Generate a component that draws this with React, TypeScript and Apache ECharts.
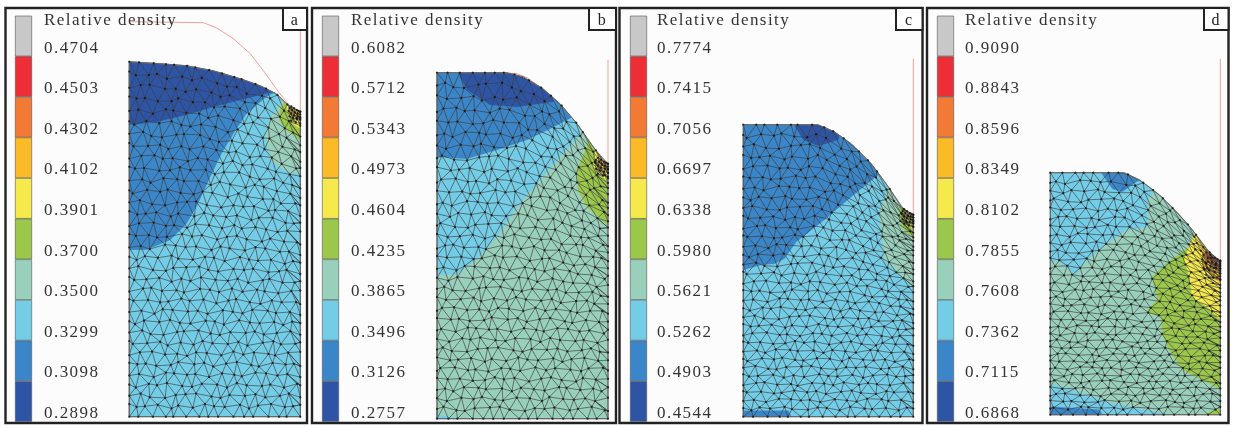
import React, { useEffect, useRef } from "react";
import * as echarts from "echarts";

// Legend values (top to bottom) per panel
const labelsA = ["0.4704", "0.4503", "0.4302", "0.4102", "0.3901", "0.3700", "0.3500", "0.3299", "0.3098", "0.2898"];
const labelsB = ["0.6082", "0.5712", "0.5343", "0.4973", "0.4604", "0.4235", "0.3865", "0.3496", "0.3126", "0.2757"];
const labelsC = ["0.7774", "0.7415", "0.7056", "0.6697", "0.6338", "0.5980", "0.5621", "0.5262", "0.4903", "0.4544"];
const labelsD = ["0.9090", "0.8843", "0.8596", "0.8349", "0.8102", "0.7855", "0.7608", "0.7362", "0.7115", "0.6868"];
const bandColors = ["#C8C8C8", "#EE2E37", "#F27A34", "#FBBB28", "#F5E94C", "#9BC84B", "#98D0BC", "#74CDE7", "#3A86C8", "#2E55A5"];
const GREY = 0, RED = 1, ORANGE = 2, AMBER = 3, YELLOW = 4, GREEN = 5, FOAM = 6, SKY = 7, BLUE = 8, NAVY = 9;

// Specimen outline: x, height
const profileA = [[0, 355], [31, 353], [57, 351], [84, 346], [111, 338], [131, 331], [147, 323], [157, 313], [164, 308], [171, 305]];
const profileB = [[0, 346], [70, 346], [86, 342], [106, 330], [123, 315], [140, 295], [156, 272], [166, 259], [171, 255]];
const profileC = [[0, 292], [75, 292], [91, 285], [108, 273], [128, 253], [145, 230], [158, 210], [165, 203], [170, 202]];
const profileD = [[0, 242], [74, 242], [89, 235], [109, 220], [129, 200], [142, 185], [156, 166], [166, 155], [170, 154]];

// Density regions, painted in order: [band, polygon]
const regionsA: [number, number[][]][] = [
  [SKY, [[0, 0], [171, 0], [171, 360], [0, 360]]],
  [BLUE, [[0, 167], [17, 167], [41, 177], [57, 193], [67, 210], [81, 240], [92, 263], [104, 283], [117, 303], [137, 320], [149, 326], [149, 360], [0, 360]]],
  [NAVY, [[0, 292], [27, 295], [57, 302], [84, 310], [111, 317], [148, 326], [148, 360], [0, 360]]],
  [FOAM, [[171, 242], [154, 247], [141, 257], [136, 283], [142, 300], [151, 313], [157, 322], [171, 330]]],
  [GREEN, [[171, 277], [157, 287], [150, 297], [151, 308], [156, 315], [171, 330]]],
  [YELLOW, [[171, 288], [164, 293], [159, 303], [157, 312], [171, 330]]],
  [AMBER, [[171, 295], [166, 300], [161, 308], [171, 330]]],
];
const regionsB: [number, number[][]][] = [
  [FOAM, [[0, 0], [171, 0], [171, 360], [0, 360]]],
  [SKY, [[0, 144], [20, 145], [40, 160], [60, 182], [80, 212], [100, 235], [120, 259], [143, 284], [143, 360], [0, 360]]],
  [BLUE, [[0, 262], [30, 260], [60, 269], [90, 279], [113, 290], [136, 302], [136, 360], [0, 360]]],
  [NAVY, [[21, 346], [30, 329], [53, 314], [80, 312], [116, 317], [116, 360], [21, 360]]],
  [GREEN, [[150, 272], [140, 249], [141, 229], [150, 212], [171, 193], [171, 290], [150, 290]]],
  [YELLOW, [[158, 262], [156, 252], [171, 237], [171, 290], [158, 290]]],
  [AMBER, [[163, 255], [171, 245], [171, 290], [163, 290]]],
  [SKY, [[0, 0], [0, 4], [23, 0]]],
];
const regionsC: [number, number[][]][] = [
  [SKY, [[0, 0], [170, 0], [170, 300], [0, 300]]],
  [BLUE, [[0, 147], [18, 152], [31, 153], [41, 158], [53, 175], [81, 197], [108, 220], [135, 242], [135, 300], [0, 300]]],
  [NAVY, [[51, 292], [60, 277], [75, 271], [95, 277], [100, 300], [51, 300]]],
  [FOAM, [[145, 230], [136, 203], [141, 157], [170, 130], [170, 240], [145, 240]]],
  [GREEN, [[156, 200], [158, 190], [170, 178], [170, 210], [156, 210]]],
  [YELLOW, [[161, 200], [170, 187], [170, 210], [161, 210]]],
  [BLUE, [[0, 0], [0, 6], [45, 6], [48, 0]]],
];
const regionsD: [number, number[][]][] = [
  [FOAM, [[0, 0], [170, 0], [170, 250], [0, 250]]],
  [SKY, [[0, 151], [6, 155], [26, 140], [32, 151], [52, 168], [76, 185], [97, 188], [97, 215], [106, 225], [106, 250], [0, 250]]],
  [BLUE, [[51, 242], [62, 226], [72, 223], [89, 235], [89, 250], [51, 250]]],
  [GREEN, [[144, 181], [139, 168], [116, 151], [102, 138], [107, 115], [96, 103], [111, 98], [112, 81], [119, 65], [132, 45], [152, 35], [170, 26], [170, 190], [144, 190]]],
  [YELLOW, [[144, 181], [134, 155], [139, 138], [142, 118], [159, 106], [170, 95], [170, 190], [144, 190]]],
  [AMBER, [[152, 161], [152, 148], [170, 131], [170, 190], [152, 190]]],
  [ORANGE, [[156, 155], [170, 143], [170, 190], [156, 190]]],
  [SKY, [[0, 31], [26, 23], [62, 11], [119, 0], [0, 0]]],
  [BLUE, [[0, 8], [49, 5], [52, 0], [0, 0]]],
  [GREEN, [[152, 0], [170, 6], [170, 0]]],
];

// Die lines: red traces above the specimen
const dieA = [[[1, 395], [74, 394], [87, 389], [104, 378], [121, 363], [137, 342], [149, 325], [161, 310]], [[171, 387], [171, 305]]];
const dieB = [[[171, 359], [171, 255]], [[64, 346], [80, 345], [90, 341], [100, 334]]];
const dieC = [[[170, 358], [170, 202]]];
const dieD = [[[170, 356], [170, 154]]];

// The mesh is an estimate of the look of the picture, not a node-by-node reading:
// a staggered lattice nudged by these hand-typed offsets, mapped into each outline.
const nudgeU = [
  [2, -3, 1, 3, -2, 0, 2, -1, -3, 2, 1, -2, 3],
  [-1, 2, -2, 0, 3, -3, 1, 2, -1, -2, 3, 0, -3],
  [3, 0, -3, 2, 1, -1, -2, 3, 0, -3, 2, 1, -1],
  [-2, 1, 3, -1, -3, 2, 0, -2, 3, 1, -1, -3, 2],
  [0, -2, 2, 3, -1, 1, -3, 0, 2, 3, -2, 1, 0],
  [1, 3, -1, -2, 2, -3, 3, 1, -2, 0, -1, 3, -2],
  [-3, -1, 0, 2, 3, 1, -2, -3, 1, 2, 0, -1, 3],
];
const nudgeV = [
  [-2, 2, 3, -1, 0, -3, 2, 1, -2, 3, -1, 2, 0],
  [3, -1, 0, 2, -3, 1, -2, 3, 0, -1, 2, -3, 1],
  [0, 3, -2, -3, 1, 2, 3, -1, -3, 1, 0, 2, -2],
  [1, -3, 2, 0, 3, -1, -2, 2, 1, -3, 3, 0, -1],
  [-1, 1, -3, 3, 2, 0, 1, -3, 2, 0, -2, 3, 2],
  [2, 0, 1, -2, -1, 3, 0, 2, -3, 1, 3, -1, -3],
];
const notchRows = [
  [[0, 0], [-2, 1], [-4, 2], [-7, 4], [-10, 6]],
  [[0, -3], [-3, -2], [-6, -1], [-9, 2], [-12, 4]],
  [[0, -6], [-3, -5], [-7, -4], [-10, -2], [-13, 1]],
  [[0, -9], [-4, -8], [-8, -7], [-12, -5]],
  [[0, -13], [-5, -12], [-10, -10]],
];
const notchScale = [0.9, 1, 0.9, 1.4];

const labelsAll = [labelsA, labelsB, labelsC, labelsD];
const profiles = [profileA, profileB, profileC, profileD];
const regions = [regionsA, regionsB, regionsC, regionsD];
const dies = [dieA, dieB, dieC, dieD];
const letters = ["a", "b", "c", "d"];

// Layout, in pixels
const frames = [[5.5, 8, 301.5, 415], [312, 8, 304, 415], [619.5, 8, 303, 415], [927, 8, 301.5, 415]];
const legendLeft = [15, 322, 630, 937];
const labelLeft = [44, 351, 657, 965];
const meshLeft = [129.3, 437, 743.3, 1050.3];
const meshBottom = [416.7, 418.7, 416.7, 414.7];
const boxLeft = [283, 589, 896, 1204];
const WORLD = 400;
const COLS = 15, ROWS = 32;
const BG = "#FCFCFC";

function heightAt(p: number[][], x: number) {
  for (let i = 1; i < p.length; i++) {
    if (x <= p[i][0]) {
      const t = (x - p[i - 1][0]) / (p[i][0] - p[i - 1][0]);
      return p[i - 1][1] + t * (p[i][1] - p[i - 1][1]);
    }
  }
  return p[p.length - 1][1];
}

function stripe(a: number[][], b: number[][]) {
  const path: number[][] = [a[0], b[0]];
  let i = 0, j = 0;
  const add = (p: number[], q: number[]) => {
    const last = path[path.length - 1];
    if (last === p) path.push(q);
    else if (last === q) path.push(p);
    else path.push(p, q);
  };
  while (i < a.length - 1 || j < b.length - 1) {
    const fa = (i + 1) / (a.length - 1), fb = (j + 1) / (b.length - 1);
    if (j === b.length - 1 || (i < a.length - 1 && fa <= fb)) i++;
    else j++;
    add(a[i], b[j]);
  }
  return path;
}

function buildMesh(panel: number) {
  const p = profiles[panel];
  const W = p[p.length - 1][0];
  const meanH = (heightAt(p, 0) + heightAt(p, W / 2) + heightAt(p, W)) / 3;
  const rows: number[][][] = [];
  for (let r = 0; r <= ROWS; r++) {
    const row: number[][] = [];
    const odd = r % 2 === 1;
    const us: number[] = [];
    if (odd) {
      us.push(0);
      for (let c = 0; c < COLS; c++) us.push((c + 0.5) / COLS);
      us.push(1);
    } else {
      for (let c = 0; c <= COLS; c++) us.push(c / COLS);
    }
    us.forEach((u0, c) => {
      const nu = nudgeU[(r + panel * 2) % nudgeU.length][c % 13];
      const nv = nudgeV[(r + panel) % nudgeV.length][c % 13];
      const edge = c === 0 || c === us.length - 1;
      const u = edge ? u0 : u0 + (nu * 0.07) / COLS;
      const v = r === 0 || r === ROWS ? r / ROWS : r / ROWS + (nv * 0.07) / ROWS;
      const x = u * W;
      const w = v * v;
      row.push([x, v * (w * heightAt(p, x) + (1 - w) * meanH)]);
    });
    rows.push(row);
  }
  const polys: number[][][] = [];
  rows.forEach((row, r) => {
    polys.push(row);
    if (r < ROWS) polys.push(stripe(row, rows[r + 1]));
  });
  const corner = p[p.length - 1];
  const fine = notchRows.map((row) => row.map((q) => [corner[0] + q[0] * notchScale[panel], corner[1] + q[1] * notchScale[panel]]));
  fine.forEach((row, r) => {
    polys.push(row);
    if (r < fine.length - 1) polys.push(stripe(row, fine[r + 1]));
  });
  const nodes = ([] as number[][]).concat(...rows, ...fine);
  return { polys, nodes };
}

function polygonSeries(panel: number, items: { pts: number[][]; fill: string }[], z: number) {
  return {
    type: "custom",
    xAxisIndex: panel * 2,
    yAxisIndex: panel * 2,
    coordinateSystem: "cartesian2d",
    silent: true,
    clip: false,
    z,
    data: items.map((_, i) => [i]),
    renderItem: (params: any, api: any) => {
      const it = items[api.value(0)];
      return {
        type: "polygon",
        shape: { points: it.pts.map((q) => api.coord(q)) },
        style: { fill: it.fill, stroke: it.fill, lineWidth: 0.4 },
      };
    },
  };
}

function lineworkSeries(panel: number, polys: number[][][], color: string, width: number, z: number) {
  return {
    type: "custom",
    xAxisIndex: panel * 2,
    yAxisIndex: panel * 2,
    coordinateSystem: "cartesian2d",
    silent: true,
    clip: false,
    z,
    data: polys.map((_, i) => [i]),
    renderItem: (params: any, api: any) => ({
      type: "polyline",
      shape: { points: polys[api.value(0)].map((q) => api.coord(q)) },
      style: { fill: "none", stroke: color, lineWidth: width },
    }),
  };
}

function buildOption() {
  const grid: any[] = [], xAxis: any[] = [], yAxis: any[] = [], series: any[] = [], title: any[] = [], graphic: any[] = [];
  for (let k = 0; k < 4; k++) {
    const [fx, fy, fw, fh] = frames[k];
    graphic.push({ type: "rect", z: -10, shape: { x: fx, y: fy, width: fw, height: fh }, style: { fill: BG, stroke: "#222", lineWidth: 2.4 } });
    graphic.push({ type: "rect", z: 50, shape: { x: boxLeft[k], y: fy, width: fx + fw - boxLeft[k], height: 22 }, style: { fill: "#fff", stroke: "#222", lineWidth: 2 } });
    graphic.push({ type: "text", z: 51, x: (boxLeft[k] + fx + fw) / 2, y: 19, style: { text: letters[k], fill: "#222", font: "16px 'Liberation Serif'", textAlign: "center", textVerticalAlign: "middle" } });
    title.push({ text: "Relative density", left: labelLeft[k], top: 11, padding: 0, textStyle: { fontFamily: "Liberation Serif", fontSize: 17, fontWeight: "normal", color: "#333" } });

    // mesh grid (index k*2)
    const W = profiles[k][profiles[k].length - 1][0];
    grid.push({ left: meshLeft[k], width: W, top: meshBottom[k] - WORLD, height: WORLD });
    xAxis.push({ type: "value", gridIndex: k * 2, min: 0, max: W, show: false });
    yAxis.push({ type: "value", gridIndex: k * 2, min: 0, max: WORLD, show: false });

    // legend grid (index k*2+1)
    grid.push({ left: legendLeft[k], width: 17, top: 15.7, height: 406 });
    xAxis.push({ type: "value", gridIndex: k * 2 + 1, min: 0, max: 1, show: false });
    yAxis.push({
      type: "category",
      gridIndex: k * 2 + 1,
      inverse: true,
      data: labelsAll[k],
      axisLine: { show: false },
      axisTick: { show: false },
      axisLabel: {
        show: true,
        margin: labelLeft[k] - legendLeft[k] - 17,
        align: "left",
        verticalAlign: "top",
        lineHeight: 22,
        fontFamily: "Liberation Serif",
        fontSize: 17,
        color: "#333",
      },
      position: "right",
    });
    series.push({
      type: "bar",
      xAxisIndex: k * 2 + 1,
      yAxisIndex: k * 2 + 1,
      barWidth: "100%",
      silent: true,
      data: bandColors.map((c) => ({ value: 1, itemStyle: { color: c, borderColor: "#555", borderWidth: 0.6 } })),
    });

    const fills = regions[k].map(([band, pts]) => ({ pts, fill: bandColors[band] }));
    series.push(polygonSeries(k, fills, 3));
    const p = profiles[k];
    const mask = [[-2, p[0][1]], ...p, [W + 2, p[p.length - 1][1]], [W + 2, 365], [-2, 365]];
    series.push(polygonSeries(k, [{ pts: mask, fill: BG }], 4));
    series.push(lineworkSeries(k, dies[k], "#F0A098", 1, 5));
    const { polys, nodes } = buildMesh(k);
    series.push(lineworkSeries(k, polys, "#3C3C3C", 0.65, 6));
    series.push(lineworkSeries(k, [[...p, [W, 0], [0, 0], p[0]]], "#666", 1, 7));
    series.push({
      type: "scatter",
      xAxisIndex: k * 2,
      yAxisIndex: k * 2,
      silent: true,
      clip: false,
      z: 8,
      symbol: "circle",
      symbolSize: 2.3,
      itemStyle: { color: "#111" },
      data: nodes,
    });
  }
  return { animation: false, backgroundColor: "#fff", tooltip: { show: false }, grid, xAxis, yAxis, series, title, graphic };
}

export default function App() {
  const ref = useRef<HTMLDivElement>(null);
  useEffect(() => {
    const chart = echarts.init(ref.current!, undefined, { renderer: "svg" });
    chart.setOption(buildOption() as any);
    return () => chart.dispose();
  }, []);
  return (
    <div
      ref={ref}
      style={{ position: "absolute", left: 0, top: 0, width: 1236, height: 426, letterSpacing: "1.45px", filter: "blur(0.4px)" }}
    />
  );
}
